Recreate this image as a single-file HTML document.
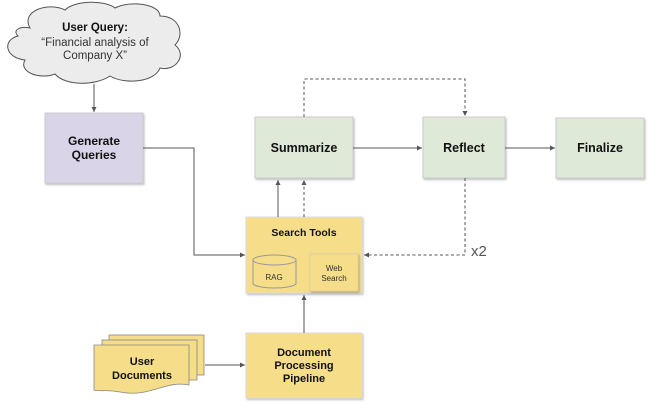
<!DOCTYPE html>
<html><head><style>
body{margin:0;background:#fff;}
svg{display:block;font-family:"Liberation Sans",Arial,sans-serif;}
.b{font-weight:bold;fill:#111;}
</style></head><body>
<svg width="650" height="404" viewBox="0 0 650 404">
<defs>
<marker id="a" markerWidth="6" markerHeight="6" refX="5" refY="3" orient="auto"><path d="M0,0.5 L5,3 L0,5.5z" fill="#555"/></marker>
<filter id="s" x="-10%" y="-10%" width="130%" height="130%"><feDropShadow dx="1" dy="1.5" stdDeviation="1" flood-color="#000" flood-opacity="0.25"/></filter>
</defs>
<!-- cloud -->
<path d="M30,28 C20,10 50,2 65,10 C75,0 105,0 115,8 C130,0 160,4 160,16 C180,16 185,35 175,45 C188,55 175,72 160,68 C155,82 125,85 110,76 C95,86 65,86 55,74 C40,80 18,72 25,60 C5,58 2,40 18,36 C12,30 20,26 30,28z" fill="#ececec" stroke="#555" stroke-width="1"/>
<text x="95" y="31" text-anchor="middle" font-size="11.5" class="b">User Query:</text>
<text x="95" y="46" text-anchor="middle" font-size="11.5" fill="#333">“Financial analysis of</text>
<text x="95" y="59" text-anchor="middle" font-size="11.5" fill="#333">Company X”</text>
<line x1="94" y1="84" x2="94" y2="112" stroke="#555" marker-end="url(#a)"/>
<!-- boxes -->
<rect x="45" y="113" width="98" height="70" fill="#d9d4e7" stroke="#ccc" filter="url(#s)"/>
<text x="94" y="145" text-anchor="middle" font-size="12" class="b">Generate</text>
<text x="94" y="159" text-anchor="middle" font-size="12" class="b">Queries</text>
<rect x="255" y="117" width="98" height="61" fill="#dfe9d8" stroke="#ccc" filter="url(#s)"/>
<text x="304" y="152" text-anchor="middle" font-size="12.5" class="b">Summarize</text>
<rect x="423" y="117" width="82" height="61" fill="#dfe9d8" stroke="#ccc" filter="url(#s)"/>
<text x="464" y="152" text-anchor="middle" font-size="12.5" class="b">Reflect</text>
<rect x="556" y="118" width="88" height="60" fill="#dfe9d8" stroke="#ccc" filter="url(#s)"/>
<text x="600" y="152" text-anchor="middle" font-size="12.5" class="b">Finalize</text>
<rect x="246" y="217" width="116" height="76" fill="#f5dd8a" stroke="#ddd" filter="url(#s)"/>
<text x="304" y="236" text-anchor="middle" font-size="10.5" class="b">Search Tools</text>
<path d="M253,260 L253,284 A22,5 0 0 0 296,284 L296,260" fill="#f5dd8a" stroke="#999"/>
<ellipse cx="274.5" cy="260" rx="21.5" ry="5" fill="#f5dd8a" stroke="#999"/>
<text x="274" y="280" text-anchor="middle" font-size="8" fill="#333">RAG</text>
<rect x="310" y="254" width="48" height="37" fill="#f5dd8a" stroke="#e0d0a0" filter="url(#s)"/>
<text x="334" y="271" text-anchor="middle" font-size="8" fill="#333">Web</text>
<text x="334" y="281" text-anchor="middle" font-size="8" fill="#333">Search</text>
<rect x="246" y="333" width="116" height="65" fill="#f5dd8a" stroke="#ddd" filter="url(#s)"/>
<text x="304" y="356" text-anchor="middle" font-size="11" class="b">Document</text>
<text x="304" y="369" text-anchor="middle" font-size="11" class="b">Processing</text>
<text x="304" y="382" text-anchor="middle" font-size="11" class="b">Pipeline</text>
<!-- user docs -->
<rect x="109" y="335" width="95" height="40" fill="#f5dd8a" stroke="#888" stroke-width="0.8"/>
<rect x="102" y="340" width="95" height="40" fill="#f5dd8a" stroke="#888" stroke-width="0.8"/>
<path d="M94,345 L189,345 L189,385 C165,380 150,398 120,392 C105,389 100,392 94,390z" fill="#f5dd8a" stroke="#888" stroke-width="0.8"/>
<text x="142" y="365" text-anchor="middle" font-size="11" class="b">User</text>
<text x="142" y="379" text-anchor="middle" font-size="11" class="b">Documents</text>
<!-- connectors -->
<g stroke="#555" fill="none" stroke-width="1">
<path d="M143,148 L194,148 L194,255 L245,255" marker-end="url(#a)"/>
<line x1="278" y1="217" x2="278" y2="180" marker-end="url(#a)"/>
<line x1="353" y1="148" x2="422" y2="148" marker-end="url(#a)"/>
<line x1="505" y1="148" x2="555" y2="148" marker-end="url(#a)"/>
<line x1="304" y1="333" x2="304" y2="295" marker-end="url(#a)"/>
<line x1="205" y1="365" x2="245" y2="365" marker-end="url(#a)"/>
<g stroke-dasharray="3,2.5">
<line x1="304" y1="217" x2="304" y2="180" marker-end="url(#a)"/>
<path d="M304,117 L304,79 L465,79 L465,116" marker-end="url(#a)"/>
<path d="M465,178 L465,255 L364,255" marker-end="url(#a)"/>
</g>
</g>
<text x="471" y="256" font-size="15" fill="#555">x2</text>
</svg>
</body></html>
